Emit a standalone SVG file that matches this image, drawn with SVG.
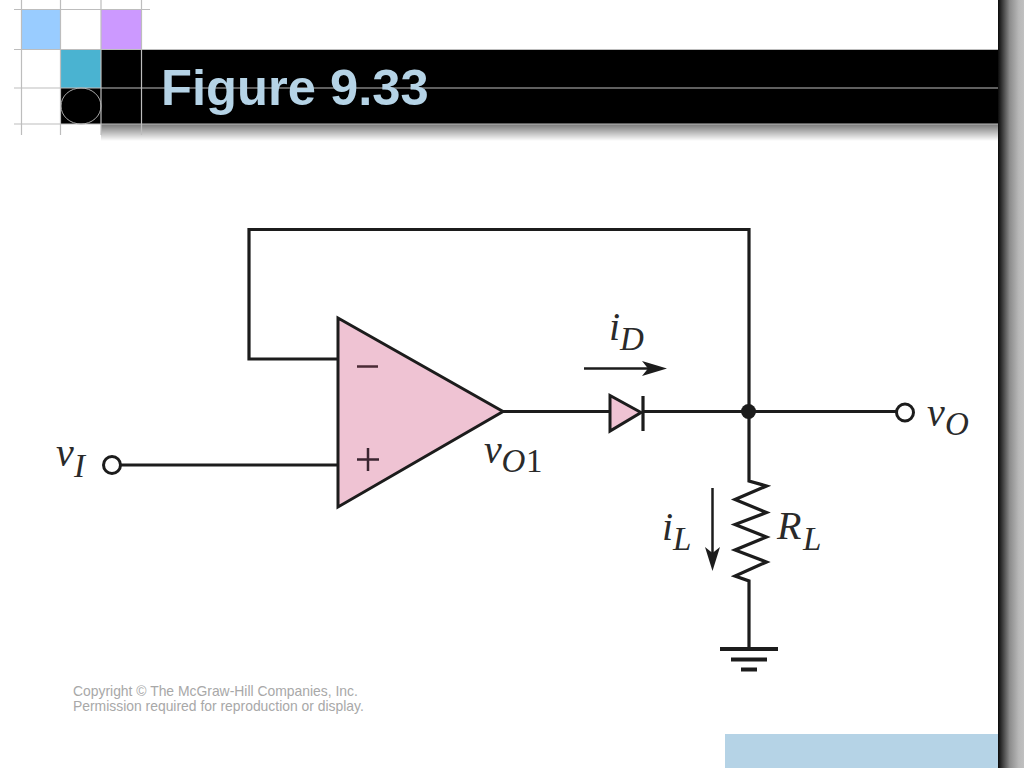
<svg xmlns="http://www.w3.org/2000/svg" width="1024" height="768" viewBox="0 0 1024 768">
<style>
.w{fill:none;stroke:#1c1c1c;stroke-width:3.200;stroke-linejoin:miter}
.pink{fill:#efc3d3;stroke:#1c1c1c;stroke-width:3}
.grid{stroke:#bdbdbd;stroke-width:1.200;fill:none}
.m{font-family:"Liberation Serif","Times New Roman",serif;font-style:italic;fill:#2a2a2a}
.big{font-size:40px}
.sub{font-size:33px}
.copy{font-family:"Liberation Sans",Arial,sans-serif;font-size:13.900px;fill:#a8a8a8}
</style>
<defs>
<linearGradient id="side" x1="0" x2="1" y1="0" y2="0"><stop offset="0" stop-color="#0a0a0a"/><stop offset=".45" stop-color="#8c8c8c"/><stop offset=".8" stop-color="#b8b8b8"/><stop offset="1" stop-color="#c0c0c0"/></linearGradient>
<linearGradient id="shadow" x1="0" x2="0" y1="0" y2="1"><stop offset="0" stop-color="#777"/><stop offset="1" stop-color="#fff"/></linearGradient>
</defs>
<rect width="1024" height="768" fill="#fff"/>
<g id="header">
<rect x="101" y="124" width="897" height="17" fill="url(#shadow)"/>
<rect x="21.500" y="9.500" width="39.500" height="39.500" fill="#99ccff"/>
<rect x="101" y="9.500" width="40.500" height="39.500" fill="#cc99ff"/>
<rect x="61" y="49" width="40" height="39" fill="#4ab3d1"/>
<rect x="101" y="49.500" width="898" height="74.500" fill="#000"/>
<rect x="61" y="88" width="40" height="36" fill="#000"/>
<ellipse cx="81" cy="106" rx="20" ry="18" fill="#000" stroke="#aaa" stroke-width="1"/>
<path class="grid" d="M14 9.500H150M14 49.500H1000M14 88H1000M14 124H1000M21.500 0V135M60.500 0V135M101 0V135M141.500 0V135"/>
<text x="161" y="105" font-family="'Liberation Sans',Arial,sans-serif" font-weight="bold" font-size="50.700" fill="#b5d3e6">Figure 9.33</text>
</g>
<rect id="side-band" x="998" y="0" width="26" height="768" fill="url(#side)"/>
<rect id="footer-bar" x="725" y="734" width="273" height="34" fill="#b5d3e6"/>
<g id="connectors">
<path class="w" d="M338 359H249V229.500H749V411"/>
<path class="w" d="M120 465H338"/>
<path class="w" d="M503 411.500H610M643 411.500H897"/>
<path class="w" d="M749 411V481L766.500 486L735 499.500L766.500 512.500L735 524.500L766.500 537L735 550L766.500 562L735 576L749 581V649"/>
</g>
<g id="opamp">
<polygon class="pink" points="338,318 338,507 503,411.500"/>
<path d="M357 366.500H378" stroke="#4a2a35" stroke-width="2.500"/>
<path d="M357 459.500H379M368 448V471" stroke="#3a2530" stroke-width="2.500"/>
</g>
<g id="diode">
<polygon class="pink" points="610,395.500 610,431 641,412.500"/>
<path d="M643 396V431" class="w"/>
</g>
<g id="junction"><circle cx="748.500" cy="411.500" r="7.500" fill="#1c1c1c"/></g>
<g id="terminal-vi"><circle cx="112" cy="465" r="8.500" fill="#fff" stroke="#1c1c1c" stroke-width="3"/></g>
<g id="terminal-vo"><circle cx="905" cy="412.500" r="8.500" fill="#fff" stroke="#1c1c1c" stroke-width="3"/></g>
<g id="ground"><path d="M720 649H778M731 659.500H767M741 669.500H757" fill="none" stroke="#1c1c1c" stroke-width="4"/></g>
<g id="arrow-id">
<path d="M584 368.500H655" stroke="#1c1c1c" stroke-width="2.500"/>
<polygon points="667,368.500 642,361 648,368.500 642,376" fill="#1c1c1c"/>
</g>
<g id="arrow-il">
<path d="M712.500 488V558" stroke="#1c1c1c" stroke-width="2.500"/>
<polygon points="712.500,571 705,547 712.500,553 720,547" fill="#1c1c1c"/>
</g>
<g id="labels">
<text class="m big" x="56" y="466">v</text><text class="m sub" x="74" y="477">I</text>
<text class="m big" x="609" y="340">i</text><text class="m sub" x="620" y="350">D</text>
<text class="m big" x="484" y="463">v</text><text class="m sub" x="501.500" y="472">O</text><text class="m sub" x="526" y="472" style="font-style:normal">1</text>
<text class="m big" x="662" y="540">i</text><text class="m sub" x="673" y="550">L</text>
<text class="m big" x="777" y="539">R</text><text class="m sub" x="803" y="550">L</text>
<text class="m big" x="927" y="426">v</text><text class="m sub" x="945" y="435">O</text>
</g>
<g id="copyright">
<text class="copy" x="73" y="695.500">Copyright © The McGraw-Hill Companies, Inc.</text>
<text class="copy" x="73" y="710.500">Permission required for reproduction or display.</text>
</g>
</svg>
